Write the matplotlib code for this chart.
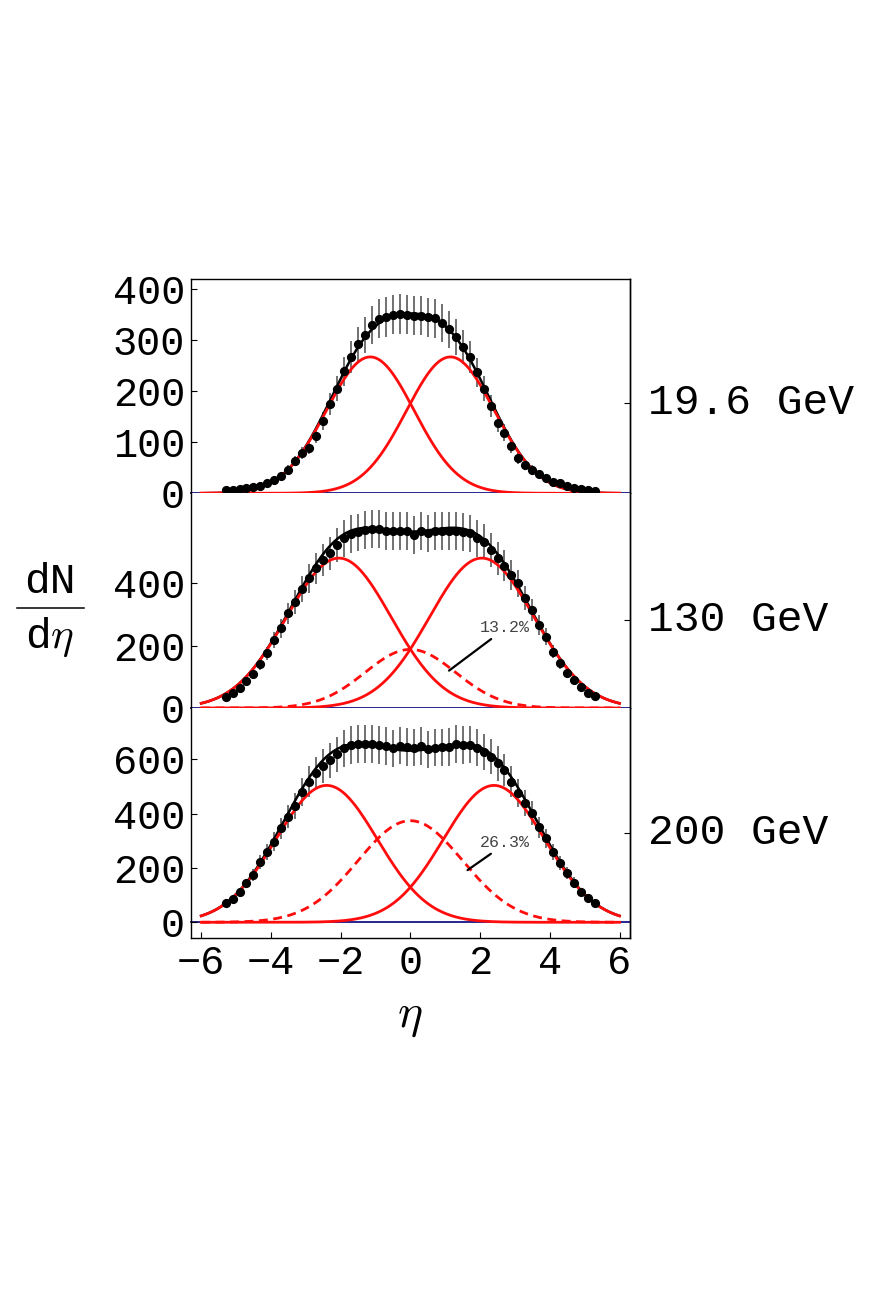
import numpy as np
import matplotlib
matplotlib.use("Agg")
import matplotlib.pyplot as plt
from matplotlib.lines import Line2D

plt.rcParams['font.family'] = ['Liberation Mono', 'DejaVu Sans']
plt.rcParams['mathtext.fontset'] = 'cm'
plt.rcParams['axes.unicode_minus'] = True

# ---------------- data ----------------
eta = [-5.3, -5.1, -4.9, -4.7, -4.5, -4.3, -4.1, -3.9, -3.7, -3.5, -3.3, -3.1, -2.9,
       -2.7, -2.5, -2.3, -2.1, -1.9, -1.7, -1.5, -1.3, -1.1, -0.9, -0.7, -0.5, -0.3, -0.1,
       0.1, 0.3, 0.5, 0.7, 0.9, 1.1, 1.3, 1.5, 1.7, 1.9, 2.1, 2.3, 2.5, 2.7, 2.9,
       3.1, 3.3, 3.5, 3.7, 3.9, 4.1, 4.3, 4.5, 4.7, 4.9, 5.1, 5.3]

energies = ["19.6 GeV", "130 GeV", "200 GeV"]

dn_196 = [5.9, 6.5, 7.8, 10.4, 11.7, 15, 20, 26, 34.5, 45.6, 63, 79.5, 89, 113, 142, 175,
          205, 239, 267, 292, 310, 329, 342, 346, 350, 351, 350,
          348, 348, 345, 343, 333, 321, 306, 287, 267, 237, 205, 171, 138, 119, 92,
          69, 56, 46, 38, 29.5, 23, 20, 14.6, 10.7, 8, 6.5, 5.2]
err_196 = [5, 5, 5, 5, 5, 6, 6, 7, 7, 9, 10, 12, 13, 15, 18, 22, 25, 28, 31, 33, 35, 37,
           38, 39, 39, 39, 39,
           39, 39, 38, 38, 37, 36, 35, 33, 31, 28, 25, 21, 18, 16, 13, 11, 10, 9, 8, 7,
           6, 6, 5, 5, 5, 5, 5]

dn_130 = [36, 49, 63, 88, 109, 141, 175, 218, 256, 304, 341, 381, 416, 448, 475, 496,
          523, 544, 558, 564, 571, 573, 573, 569, 568, 568, 568,
          555, 569, 560, 569, 569, 569, 569, 566, 560, 544, 534, 507, 480, 456, 427,
          400, 352, 314, 266, 229, 181, 143, 111, 90, 68, 49, 38.5]
err_130 = [8, 9, 10, 13, 15, 18, 22, 26, 30, 34, 38, 42, 46, 49, 52, 54, 56, 58, 60, 60,
           61, 61, 61, 61, 61, 61, 61,
           60, 61, 60, 61, 61, 61, 61, 61, 60, 58, 57, 55, 52, 50, 47, 44, 39, 35, 31,
           27, 22, 18, 15, 13, 11, 9, 8]

dn_200 = [72, 85, 113, 143, 174, 223, 260, 297, 346, 389, 428, 481, 518, 548, 575, 597,
          618, 640, 653, 655, 655, 655, 653, 649, 640, 650, 646,
          642, 649, 637, 642, 644, 646, 656, 653, 654, 643, 628, 610, 585, 561, 518,
          477, 438, 401, 350, 309, 260, 217, 180, 146, 113, 88, 70]
err_200 = [11, 13, 15, 18, 21, 26, 30, 34, 39, 43, 47, 52, 56, 59, 62, 64, 66, 68, 69,
           70, 70, 70, 69, 69, 68, 69, 69,
           68, 69, 68, 68, 68, 69, 70, 69, 69, 68, 67, 65, 63, 60, 56, 52, 48, 44, 39,
           35, 30, 26, 22, 19, 15, 13, 11]

# Gaussian source components: (amplitude, centre, width)
src_196 = [(267, -1.15, 1.26), (267, 1.15, 1.26)]
src_130 = [(481, -2.05, 1.50), (481, 2.05, 1.50)]
src_200 = [(504, -2.40, 1.454), (504, 2.40, 1.454)]
mid_130 = (188, 0.0, 1.30)
mid_200 = (374, 0.0, 1.50)
mid_frac = ["13.2%", "26.3%"]

yticks = [[0, 100, 200, 300, 400], [0, 200, 400], [0, 200, 400, 600]]
ylims = [(0, 419), (0, 689), (-59, 789)]
xticks = [-6, -4, -2, 0, 2, 4, 6]
label_y = [177, 282, 329]

# ---------------- figure ----------------
W, H = 872, 1308
fig = plt.figure(figsize=(W / 100, H / 100), dpi=100)

def rect(top, bottom):
    return [190.7 / W, 1 - bottom / H, (630 - 190.7) / W, (bottom - top) / H]

rects = [rect(279.3, 493.3), rect(493.3, 708.0), rect(708.0, 938.3)]

datas = [(dn_196, err_196, src_196, None),
         (dn_130, err_130, src_130, mid_130),
         (dn_200, err_200, src_200, mid_200)]

xc = np.linspace(-6, 6, 500)

def gauss(p):
    a, c, s = p
    return a * np.exp(-(xc - c) ** 2 / (2 * s * s))

red = '#ff0d0d'
axes = []
for i, (r, (dn, er, srcs, mid)) in enumerate(zip(rects, datas)):
    ax = fig.add_axes(r)
    axes.append(ax)
    ax.set_xlim(-6.3, 6.3)
    ax.set_ylim(*ylims[i])
    ax.axhline(0, color='#141487', lw=1.3, zorder=1, clip_on=False)
    ax.errorbar(eta, dn, yerr=er, fmt='none', ecolor='#4a4a4a', elinewidth=1.1,
                capsize=0, zorder=2)
    comps = [gauss(p) for p in srcs]
    total = np.sum(comps, axis=0)
    if mid is not None:
        mcurve = gauss(mid)
        total = total + mcurve
    ax.plot(xc, total, color='black', lw=1.8, zorder=3, clip_on=False)
    for c in comps:
        ax.plot(xc, c, color=red, lw=2.0, zorder=4, clip_on=False)
    if mid is not None:
        ax.plot(xc, mcurve, color=red, lw=2.0, ls=(0, (3.2, 2.0)), zorder=4,
                clip_on=False)
    ax.plot(eta, dn, 'o', color='black', ms=5.6, zorder=5, clip_on=False)

    ax.set_yticks(yticks[i])
    ax.tick_params(axis='y', direction='in', length=4, width=0.8, labelsize=29, pad=4)
    for sp in ax.spines.values():
        sp.set_linewidth(1.0)
    if i > 0:
        ax.spines['top'].set_visible(False)
    if i < 2:
        ax.spines['bottom'].set_visible(False)
        ax.tick_params(axis='x', bottom=False, labelbottom=False)
    else:
        ax.set_xticks(xticks)
        ax.tick_params(axis='x', direction='in', length=4, width=0.8, labelsize=29,
                       pad=4)

    sec = ax.secondary_yaxis('right')
    sec.set_yticks([label_y[i]])
    sec.tick_params(direction='in', length=4, width=0.8, labelright=False)
    sec.spines['right'].set_linewidth(1.0)

    ax.text(1.04, label_y[i], energies[i], transform=ax.get_yaxis_transform(),
            ha='left', va='center', fontsize=31)

# percentage annotations
ann = [(axes[1], mid_frac[0], (1.11, 120), (2.70, 257)),
       (axes[2], mid_frac[1], (1.64, 192), (2.70, 293))]
for ax, txt, xy, xyt in ann:
    ax.annotate(txt, xy=xy, xytext=xyt, ha='center', va='center', fontsize=12,
                color='#444444', zorder=6,
                arrowprops=dict(arrowstyle='-', color='black', lw=1.6,
                                relpos=(0.33, 0.0), shrinkA=1, shrinkB=0))

# y label as a fraction dN / d eta
fig.text(50 / W, 1 - 582 / H, 'dN', ha='center', va='center', fontsize=31)
fig.add_artist(Line2D([17 / W, 84 / W], [1 - 608 / H, 1 - 608 / H], color='black',
                      lw=1.1))
fig.text(50 / W, 1 - 637 / H, r'd$\eta$', ha='center', va='center', fontsize=31)

# x label
fig.text(410 / W, 1 - 1017 / H, r'$\eta$', ha='center', va='center', fontsize=34)

fig.savefig('out.png', dpi=100)
